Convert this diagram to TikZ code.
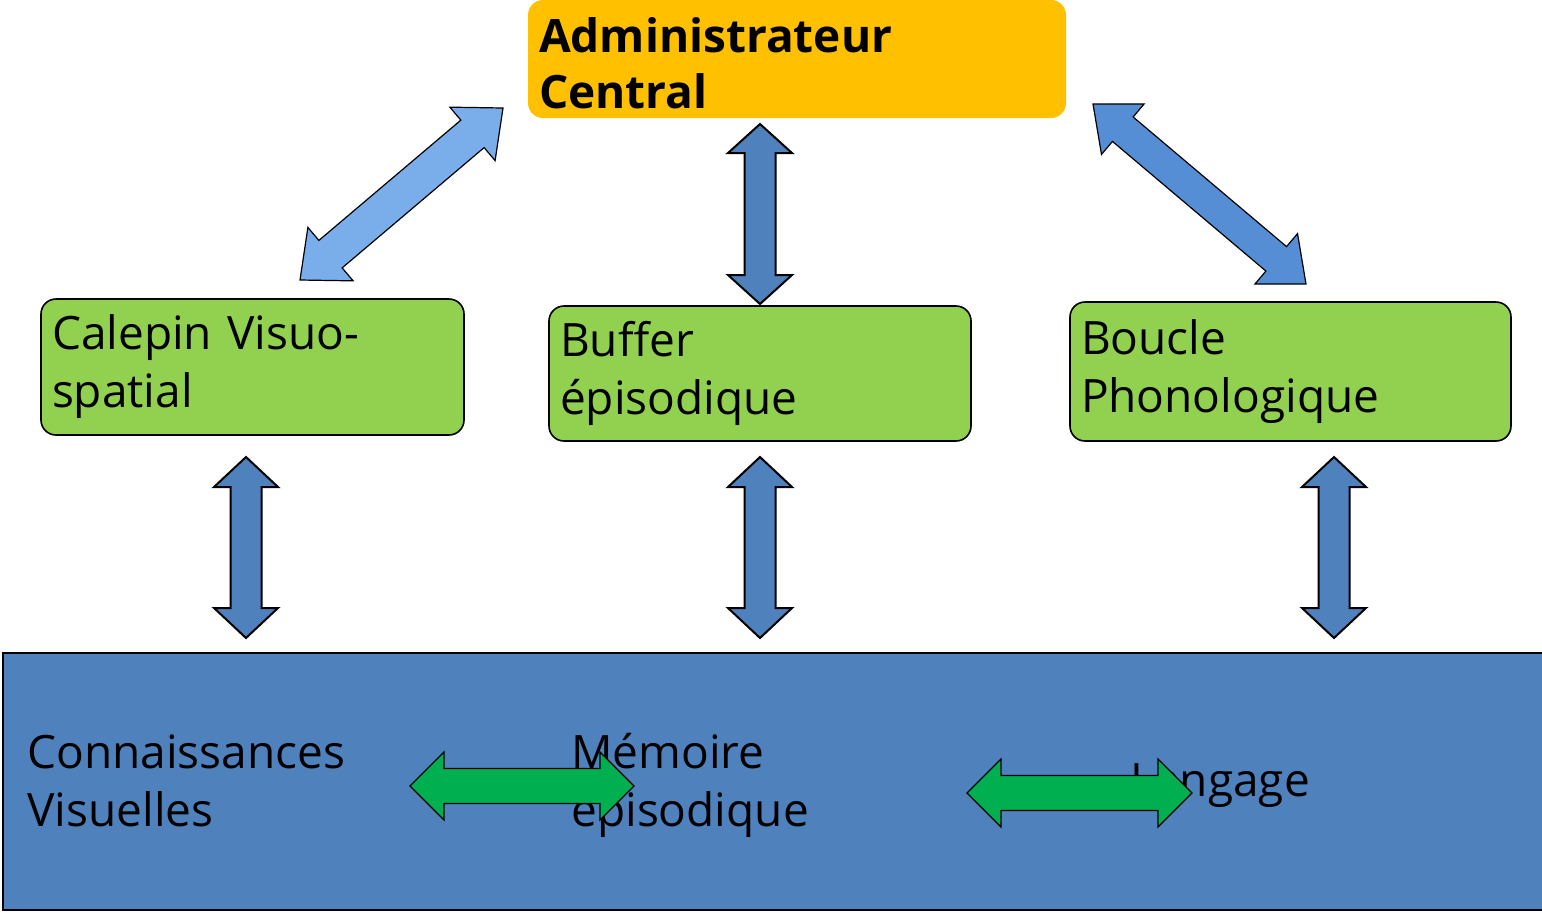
\documentclass[tikz,border=0pt]{standalone}
\usepackage{fontspec}
\setmainfont{Open Sans}
\usepackage{tikz}
\usetikzlibrary{calc,positioning}
\definecolor{adminorange}{RGB}{255,192,0}
\definecolor{boxgreen}{RGB}{146,208,80}
\definecolor{memblue}{RGB}{79,129,189}
\definecolor{skyblue}{RGB}{122,174,234}
\definecolor{midblue}{RGB}{85,142,213}
\definecolor{linkgreen}{RGB}{0,176,80}

\tikzset{
  labelfont/.style={font=\fontsize{23}{29}\selectfont},
  compbox/.style={draw=black,line width=0.8pt,fill=boxgreen,rounded corners=7.5pt,
    align=left,inner xsep=5.5pt,labelfont},
  vlink/.style={draw=black,line width=1pt,fill=memblue},
  glink/.style={draw=black,line width=0.6pt,fill=linkgreen}
}

% block double arrow: tail, tip, shaft half width, head half width, head length, style
\newcommand{\blockarrow}[6]{%
  \draw[#6] (#1)
    -- ($($(#1)!#5!(#2)$)!#4!90:(#2)$)
    -- ($($(#1)!#5!(#2)$)!#3!90:(#2)$)
    -- ($($(#2)!#5!(#1)$)!#3!-90:(#1)$)
    -- ($($(#2)!#5!(#1)$)!#4!-90:(#1)$)
    -- (#2)
    -- ($($(#2)!#5!(#1)$)!#4!90:(#1)$)
    -- ($($(#2)!#5!(#1)$)!#3!90:(#1)$)
    -- ($($(#1)!#5!(#2)$)!#3!-90:(#2)$)
    -- ($($(#1)!#5!(#2)$)!#4!-90:(#2)$)
    -- cycle;}

\begin{document}
\begin{tikzpicture}[x=0.5pt,y=-0.5pt]
    \useasboundingbox (0,0) rectangle (1542,912);

    % Central executive
    \node[fill=adminorange,rounded corners=7.5pt,minimum width=269pt,minimum height=59pt,
      text width=258pt,align=left,inner xsep=5.5pt,font=\fontsize{23}{28}\selectfont\bfseries]
      (admin) at (797,59) {\rule{0pt}{22pt}Administrateur\\Central};

    % Slave systems
    \node[compbox,minimum width=211.5pt,minimum height=68pt,text width=200.5pt]
      (calepin) at (252.5,367) {Calepin Visuo-\\spatial};
    \node[compbox,minimum width=211pt,minimum height=67.5pt,text width=200pt]
      (buffer) at (760,373.5) {Buffer\\épisodique};
    \node[compbox,minimum width=220.5pt,minimum height=69.5pt,text width=209.5pt]
      (boucle) at (1290.5,371.5) {Boucle\\Phonologique};

    % Long term memory
    \draw[line width=1pt,fill=memblue] (3,653) rectangle (1545,910);
    \node[labelfont,align=left,anchor=west,inner sep=0pt] (connaiss) at (27,781) {Connaissances\\Visuelles};
    \node[labelfont,align=left,anchor=west,inner sep=0pt] (memoire) at (571,785) {Mémoire\\épisodique};
    \node[labelfont,anchor=west,inner sep=0pt] (langage) at (1130,786) {Langage};

    % Links to the central executive
    \coordinate (calepinTop) at (300,280);
    \coordinate (adminLeft) at (503,108);
    \coordinate (adminMid) at (760,124);
    \coordinate (bufferTop) at (760,304);
    \coordinate (adminRight) at (1093,104);
    \coordinate (boucleTop) at (1306,284);
    \blockarrow{calepinTop}{adminLeft}{9pt}{17.5pt}{20pt}{draw=black,line width=0.6pt,fill=skyblue}
    \blockarrow{adminMid}{bufferTop}{7.75pt}{16pt}{14.5pt}{vlink}
    \blockarrow{adminRight}{boucleTop}{8pt}{16.5pt}{19.5pt}{draw=black,line width=0.6pt,fill=midblue}

    % Links to long term memory
    \coordinate (calepinBot) at (246,457);
    \coordinate (connaissTop) at (246,638);
    \coordinate (bufferBot) at (760,457);
    \coordinate (memoireTop) at (760,638);
    \coordinate (boucleBot) at (1334,457);
    \coordinate (langageTop) at (1334,638);
    \blockarrow{calepinBot}{connaissTop}{7.75pt}{16pt}{15pt}{vlink}
    \blockarrow{bufferBot}{memoireTop}{7.75pt}{16pt}{15pt}{vlink}
    \blockarrow{boucleBot}{langageTop}{7.75pt}{16pt}{15pt}{vlink}

    % Links inside long term memory
    \coordinate (gLeftA) at (410,786);
    \coordinate (gLeftB) at (634,786);
    \coordinate (gRightA) at (967,793);
    \coordinate (gRightB) at (1192,793);
    \blockarrow{gLeftA}{gLeftB}{8.75pt}{17pt}{17pt}{glink}
    \blockarrow{gRightA}{gRightB}{8.75pt}{17pt}{17pt}{glink}
\end{tikzpicture}
\end{document}
